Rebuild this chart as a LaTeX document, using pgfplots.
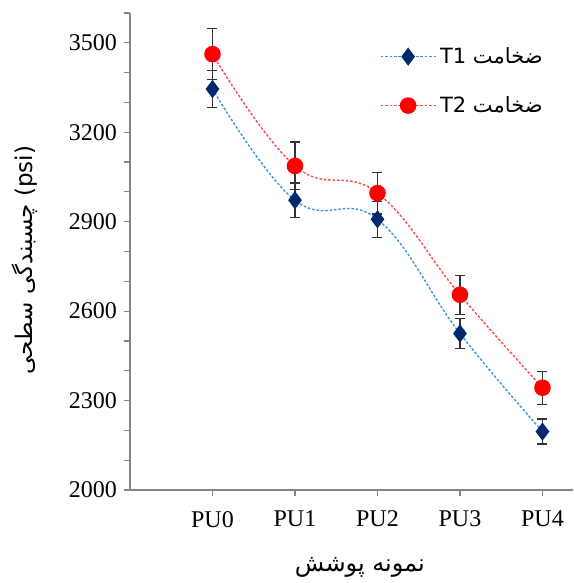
\documentclass[border=0pt]{standalone}
\usepackage{fontspec}
\setmainfont{Liberation Serif}
\newfontfamily\arabicfont[Script=Arabic]{DejaVu Sans}
\TeXXeTstate=1
\usepackage{pgfplots}
\pgfplotsset{compat=1.18}
\definecolor{navy}{HTML}{002A6C}
\definecolor{lblue}{HTML}{3C96DC}
\definecolor{rred}{HTML}{FF0000}
\definecolor{lred}{HTML}{FF4A4A}
\definecolor{axgray}{HTML}{858585}
\begin{document}
\begin{tikzpicture}
\begin{axis}[
  scale only axis,
  width=221.5pt, height=238.5pt,
  xmin=-1, xmax=4.37,
  ymin=2000, ymax=3600,
  axis lines=left,
  axis line style={-, axgray, line width=0.8pt},
  xtick={0,1,2,3,4},
  xticklabels={PU0,PU1,PU2,PU3,PU4},
  ytick={2000,2300,2600,2900,3200,3500},
  minor ytick={2100,2200,2400,2500,2700,2800,3000,3100,3300,3400,3600},
  tick align=outside,
  major tick length=3pt,
  minor tick length=3pt,
  tick style={axgray, line width=0.6pt},
  every tick label/.append style={font=\fontsize{12}{14}\selectfont},
  /pgf/number format/assume math mode=true,
  /pgf/number format/1000 sep={},
  xticklabel style={yshift=-4pt},
  ylabel={\arabicfont\fontsize{11.5}{14}\selectfont\beginR چسبندگی سطحی\endR{} (psi)},
  every axis y label/.style={at={(axis description cs:-0.237,0.482)}, rotate=90, anchor=center},
  xlabel={\arabicfont\fontsize{12}{14}\selectfont\beginR نمونه پوشش\endR},
  every axis x label/.style={at={(axis description cs:0.519,-0.163)}, anchor=center},
  legend style={at={(axis description cs:0.955,0.946)}, anchor=north east, draw=none, fill=none,
    row sep=11pt, font=\arabicfont\fontsize{10.5}{13}\selectfont},
  legend cell align=left,
  legend image code/.code={\draw[mark repeat=2,mark phase=2,#1] plot coordinates {(0cm,0cm) (0.48cm,0cm) (0.96cm,0cm)};},
  error bars/error bar style={solid, black!80, line width=0.6pt},
  error bars/error mark options={rotate=90, mark size=2.5pt, black!80, solid, line width=0.6pt},
  clip=false,
]
\coordinate (bl) at (rel axis cs:0,0);
\coordinate (tr) at (rel axis cs:1,1);
\addplot[lblue, line width=0.7pt, dash pattern=on 1.3pt off 0.9pt, smooth, tension=0.7,
  mark=diamond*, mark size=4pt, mark options={solid, fill=navy, draw=navy},
  error bars/.cd, y dir=both, y explicit]
  coordinates {
    (0,3345) +- (0,62)
    (1,2972) +- (0,58)
    (2,2908) +- (0,60)
    (3,2525) +- (0,50)
    (4,2196) +- (0,42)
  };
\addlegendentry{T1 ضخامت}
\addplot[lred, line width=0.7pt, dash pattern=on 1.3pt off 0.9pt, smooth, tension=0.7,
  mark=*, mark size=3.8pt, mark options={solid, fill=rred, draw=rred},
  error bars/.cd, y dir=both, y explicit]
  coordinates {
    (0,3462) +- (0,85)
    (1,3087) +- (0,80)
    (2,2996) +- (0,70)
    (3,2655) +- (0,65)
    (4,2343) +- (0,55)
  };
\addlegendentry{T2 ضخامت}
\end{axis}
\pgfresetboundingbox
\path ([shift={(-65pt,-46.5pt)}]bl) rectangle ([shift={(0pt,6.5pt)}]tr);
\end{tikzpicture}
\end{document}
